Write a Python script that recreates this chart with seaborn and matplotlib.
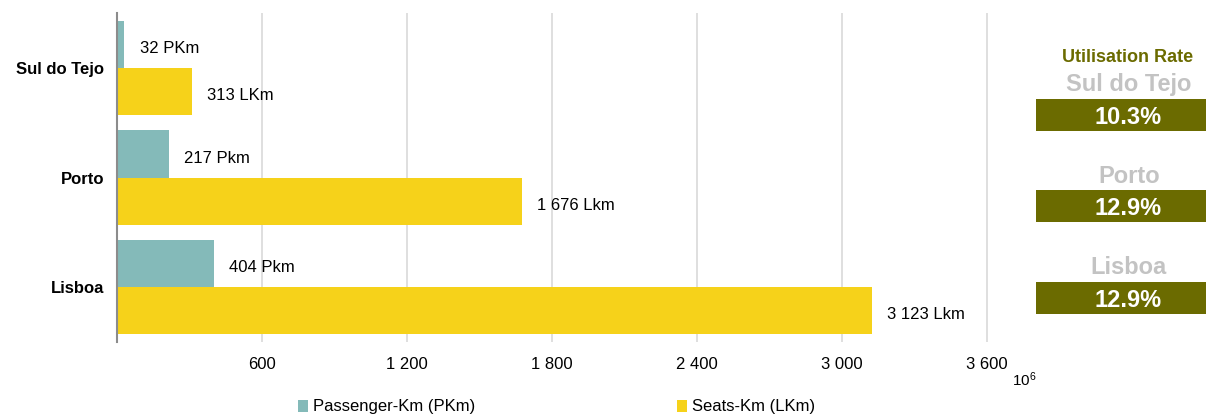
import matplotlib
matplotlib.use("Agg")
import matplotlib.pyplot as plt
from matplotlib.patches import Rectangle
import seaborn as sns
import pandas as pd

# ---- data ----
regions = ["Sul do Tejo", "Porto", "Lisboa"]
series_names = ["Passenger-Km (PKm)", "Seats-Km (LKm)"]
passenger_km = [32, 217, 404]
seats_km = [313, 1676, 3123]
passenger_labels = ["32 PKm", "217 Pkm", "404 Pkm"]
seats_labels = ["313 LKm", "1 676 Lkm", "3 123 Lkm"]
x_ticks = [600, 1200, 1800, 2400, 3000, 3600]
x_tick_labels = ["600", "1 200", "1 800", "2 400", "3 000", "3 600"]
rate_title = "Utilisation Rate"
rate_values = ["10.3%", "12.9%", "12.9%"]

# ---- style ----
TEAL = "#84BAB9"
YELLOW = "#F6D21A"
OLIVE = "#6B6B00"
GRAY_TXT = "#C3C3C3"

sns.set_style("white")
plt.rcParams["font.family"] = ["Liberation Sans", "DejaVu Sans"]
plt.rcParams["mathtext.fontset"] = "custom"
plt.rcParams["mathtext.rm"] = "Liberation Sans"
plt.rcParams["text.color"] = "black"
plt.rcParams["xtick.color"] = "black"
plt.rcParams["ytick.color"] = "black"
plt.rcParams["xtick.labelcolor"] = "black"
plt.rcParams["ytick.labelcolor"] = "black"

W, H = 1206, 416
fig = plt.figure(figsize=(W / 100, H / 100), dpi=100)
ax = fig.add_axes([116.5 / W, 1 - 342 / H, (988 - 116.5) / W, (342 - 13) / H])

df = pd.DataFrame({
    "region": regions * 2,
    "series": [series_names[0]] * 3 + [series_names[1]] * 3,
    "value": passenger_km + seats_km,
})

sns.barplot(data=df, y="region", x="value", hue="series", order=regions,
            hue_order=series_names, palette=[TEAL, YELLOW], saturation=1,
            width=0.86, orient="h", ax=ax, linewidth=0)

ax.set_xlim(0, 3604)
ax.set_ylim(2.5, -0.5)
ax.set_xticks(x_ticks)
ax.set_xticklabels(x_tick_labels, fontsize=12, color="black")
ax.set_xlabel("")
ax.set_ylabel("")
ax.tick_params(axis="x", length=0, pad=11)
ax.tick_params(axis="y", length=0, pad=9)
for t in ax.get_yticklabels():
    t.set_fontweight("bold")
    t.set_fontsize(12)
    t.set_color("black")
ax.grid(axis="x", color="#D9D9D9", linewidth=1.2)
ax.set_axisbelow(True)
for s in ["top", "right", "bottom"]:
    ax.spines[s].set_visible(False)
ax.spines["left"].set_color("#8C8C8C")
ax.spines["left"].set_linewidth(1.5)

# value labels
all_labels = [passenger_labels, seats_labels]
for cont, labs in zip(ax.containers, all_labels):
    for bar, lab in zip(cont, labs):
        ax.annotate(lab, (bar.get_width(), bar.get_y() + bar.get_height() / 2),
                    xytext=(11, -3), textcoords="offset points",
                    ha="left", va="center", fontsize=12, color="black")

# legend
handles, labels = ax.get_legend_handles_labels()
if ax.get_legend() is not None:
    ax.get_legend().remove()
fig.legend(handles, labels, loc="center left",
           bbox_to_anchor=(298 / W, 1 - 407 / H), ncol=2, frameon=False,
           fontsize=12, handlelength=0.6, handleheight=0.7,
           handletextpad=0.3, columnspacing=12.1, borderpad=0, borderaxespad=0)

# unit label
fig.text(1012 / W, 1 - 380 / H, r"$\mathregular{10^6}$", fontsize=11,
         ha="left", va="center")

# utilisation rate panel
fig.text(1128 / W, 1 - 57 / H, rate_title, fontsize=13, fontweight="bold",
         color=OLIVE, ha="center", va="center")
name_y = [85, 177, 268]
box_top = [99, 190, 282]
for reg, val, ny, bt in zip(regions, rate_values, name_y, box_top):
    fig.text(1129 / W, 1 - ny / H, reg, fontsize=17, fontweight="bold",
             color=GRAY_TXT, ha="center", va="center")
    fig.add_artist(Rectangle((1036 / W, 1 - (bt + 32) / H), (W - 1036) / W, 32 / H,
                             transform=fig.transFigure, facecolor=OLIVE,
                             edgecolor="none"))
    fig.text(1128 / W, 1 - (bt + 18.5) / H, val, fontsize=17, fontweight="bold",
             color="white", ha="center", va="center")

fig.savefig("out.png", dpi=100)
